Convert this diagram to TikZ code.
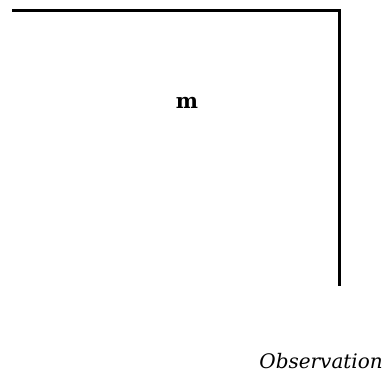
\documentclass[tikz,border=0pt]{standalone}
\usepackage{fontspec}
\setmainfont{DejaVu Serif}
\begin{document}
\begin{tikzpicture}[x=1pt, y=-1pt]

  % Frame of the picture
  \useasboundingbox (0, 0) rectangle (385, 373);

  % Corner line
  \coordinate (topleft) at (12, 10);
  \coordinate (corner) at (339, 10);
  \coordinate (bottom) at (339, 286);
  \draw[line width=3pt] (topleft) -- (corner) -- (bottom);

  % Labels
  \node[font=\fontsize{21}{24}\selectfont\bfseries] (m) at (187, 103) {m};
  \node[font=\fontsize{20}{24}\selectfont\itshape, anchor=base east, inner sep=0pt] (obs) at (383, 368) {Observation};

\end{tikzpicture}
\end{document}
